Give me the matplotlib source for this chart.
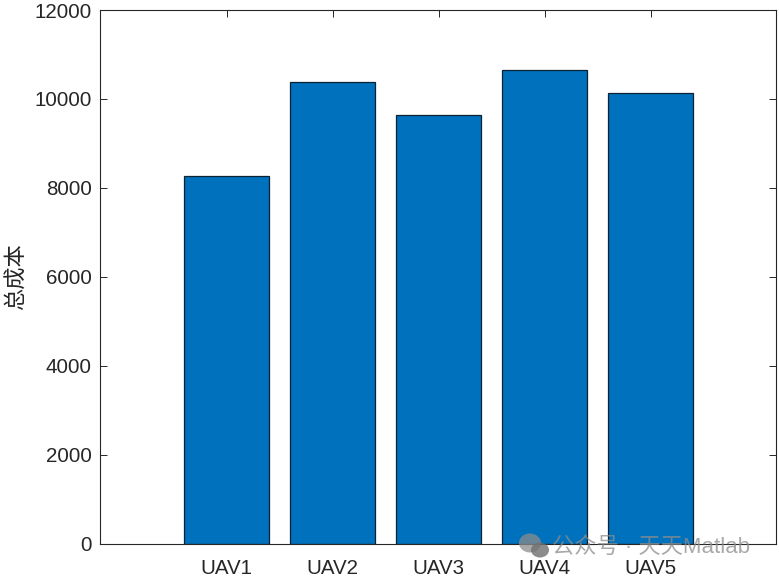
import matplotlib
matplotlib.use('Agg')
import matplotlib.pyplot as plt
from matplotlib.patches import Ellipse

plt.rcParams['font.family'] = ['Liberation Sans', 'Noto Sans CJK SC', 'DejaVu Sans']

# Data
uav_names = ['UAV1', 'UAV2', 'UAV3', 'UAV4', 'UAV5']
uav_pos = [1, 2, 3, 4, 5]
total_cost = [8265, 10385, 9645, 10655, 10140]
y_ticks = [0, 2000, 4000, 6000, 8000, 10000, 12000]

text_color = '#262626'

fig = plt.figure(figsize=(7.79, 5.77), dpi=100)
ax = fig.add_axes([100 / 779, 1 - 543.5 / 577, 676 / 779, 533.5 / 577])

# Bars
ax.bar(uav_pos, total_cost, width=0.8, color='#0072BD', edgecolor='#0a2233', linewidth=0.9, zorder=2)

ax.set_xlim(-0.193, 6.18)
ax.set_ylim(0, 12000)
ax.set_xticks(uav_pos)
ax.set_xticklabels(uav_names)
ax.set_yticks(y_ticks)

# Inward ticks on all sides, like a boxed MATLAB axes
ax.tick_params(axis='both', direction='in', length=4.8, width=0.7, color=text_color,
               labelcolor=text_color, labelsize=14.8, top=True, right=True, zorder=3)
ax.tick_params(axis='x', pad=11)
ax.tick_params(axis='y', pad=6)
for spine in ax.spines.values():
    spine.set_linewidth(0.8)
    spine.set_color(text_color)
    spine.set_zorder(4)

ax.set_ylabel('总成本', fontsize=16, color=text_color, labelpad=5)

# Watermark in the lower right corner
wm_color = '#8c8c8c'
fig.text(552 / 779, 1 - 547 / 577, '公众号 · 天天Matlab', fontsize=16, color=wm_color,
         alpha=0.75, ha='left', va='center', zorder=10)
fig.add_artist(Ellipse((530 / 779, 1 - 543 / 577), 22 / 779, 19 / 577, color=wm_color, alpha=0.75, lw=0))
fig.add_artist(Ellipse((540 / 779, 1 - 550 / 577), 18 / 779, 15 / 577, color='#707070', alpha=0.8, lw=0))

fig.savefig('out.png', dpi=100)
